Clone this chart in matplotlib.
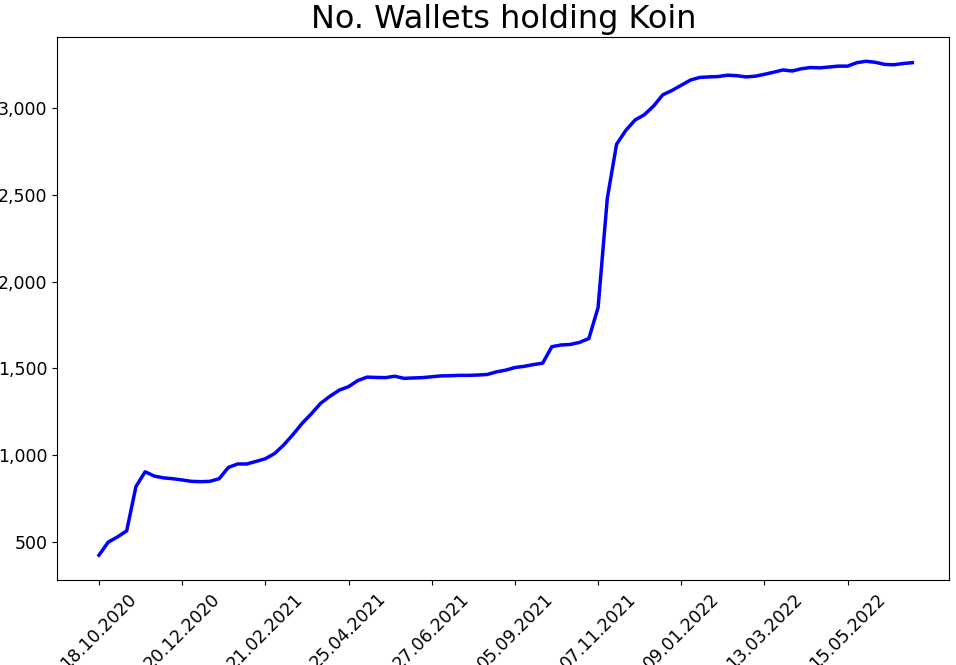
import matplotlib.pyplot as plt
import matplotlib.ticker as mticker

wallets = [425, 500, 530, 565, 820, 905, 880, 870, 865, 858,
           850, 848, 850, 865, 930, 950, 950, 965, 980, 1010,
           1060, 1120, 1185, 1240, 1300, 1340, 1375, 1395, 1430, 1450,
           1448, 1447, 1455, 1443, 1445, 1447, 1452, 1457, 1458, 1460,
           1460, 1462, 1465, 1480, 1490, 1505, 1512, 1522, 1530, 1625,
           1635, 1638, 1650, 1672, 1850, 2480, 2790, 2870, 2930, 2960,
           3010, 3075, 3100, 3130, 3160, 3175, 3178, 3180, 3188, 3185,
           3178, 3182, 3193, 3205, 3218, 3212, 3225, 3232, 3230, 3235,
           3240, 3240, 3260, 3268, 3262, 3250, 3248, 3255, 3260]
tick_labels = ['18.10.2020', '20.12.2020', '21.02.2021', '25.04.2021', '27.06.2021',
               '05.09.2021', '07.11.2021', '09.01.2022', '13.03.2022', '15.05.2022']

fig, ax = plt.subplots(figsize=(9.56, 6.65), dpi=100)
ax.plot(range(len(wallets)), wallets, color='blue', linewidth=2.5)
ax.set_title('No. Wallets holding Koin', fontsize=23)
ax.set_xticks(range(0, 9 * len(tick_labels), 9))
ax.set_xticklabels(tick_labels, rotation=45, fontsize=12.5)
ax.tick_params(axis='y', labelsize=12.5)
ax.yaxis.set_major_formatter(mticker.FuncFormatter(lambda v, p: f'{int(v):,}'))
ax.set_xlim(-4.5, 92)
plt.subplots_adjust(left=0.06, right=0.993, top=0.945, bottom=0.128)
plt.savefig('out.png')
